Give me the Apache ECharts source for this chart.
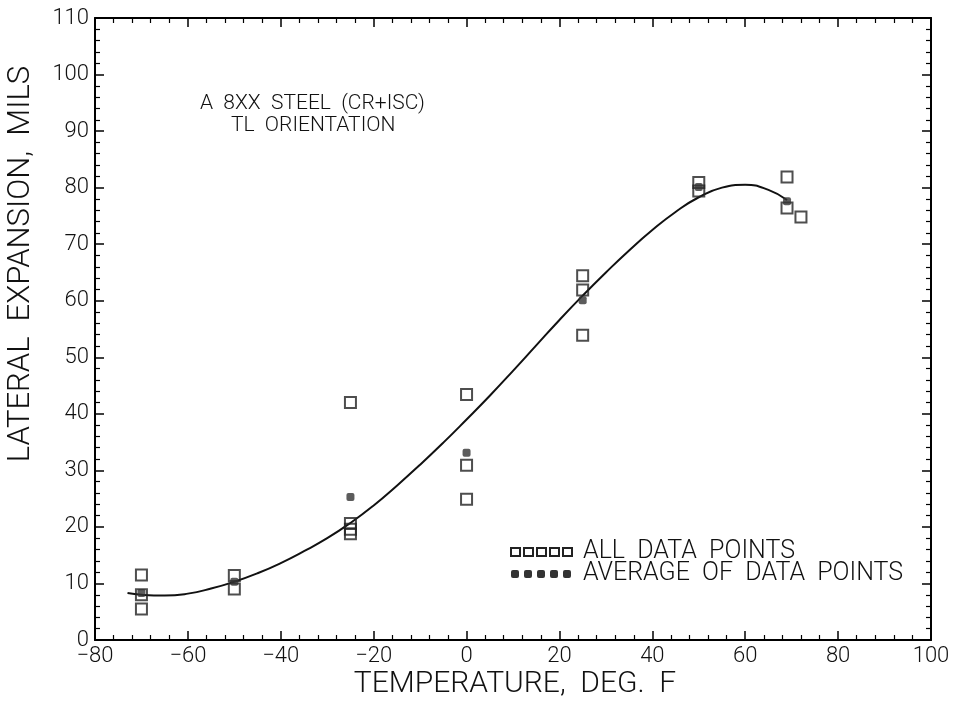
<!DOCTYPE html>
<html><head><meta charset="utf-8">
<script src="https://cdn.jsdelivr.net/npm/echarts@6/dist/echarts.min.js"></script>
<style>html,body{margin:0;padding:0;background:#fff}#c{width:956px;height:701px}</style>
</head><body><div id="c"></div>
<script>
// All data points [temperature F, lateral expansion mils]
const allPoints = [
  [-70, 11.5], [-70, 8.0], [-70, 5.5],
  [-50, 11.4], [-50, 9.0],
  [-25, 42.0], [-25, 20.6], [-25, 19.6], [-25, 18.8],
  [0, 43.4], [0, 30.9], [0, 24.9],
  [25, 64.4], [25, 61.9], [25, 53.9],
  [50, 80.9], [50, 79.4],
  [69, 81.9], [69, 76.4],
  [72, 74.8]
];
// Averages
const avgPoints = [
  [-70, 8.3], [-50, 10.3], [-25, 25.3], [0, 33.1], [25, 60.1], [50, 80.1], [69, 77.6]
];
// Fitted curve
const curveX = [-73, -70, -65, -60, -55, -50, -45, -40, -35, -30, -25, -20, -15, -10, -5, 0, 5, 10, 15, 20, 25, 30, 35, 40, 45, 50, 55, 60, 65, 69];
const curveY = [8.3, 8.0, 7.85, 8.2, 9.1, 10.3, 11.8, 13.6, 15.7, 18.0, 20.7, 23.8, 27.3, 31.0, 34.9, 39.0, 43.2, 47.6, 52.1, 56.6, 60.9, 65.0, 68.9, 72.5, 75.7, 78.3, 80.0, 80.5, 79.6, 77.8];
const xTicks = [-80, -60, -40, -20, 0, 20, 40, 60, 80, 100];
const yTicks = [0, 10, 20, 30, 40, 50, 60, 70, 80, 90, 100, 110];

const FONT = 'Roboto, "Liberation Sans", sans-serif';
const W = 300;
const curve = curveX.map((x, i) => [x, curveY[i]]);

function axisCommon(show) {
  return {
    axisLine: {show: true, onZero: false, lineStyle: {color: '#000', width: 2}},
    axisTick: {show: true, inside: true, length: 9, lineStyle: {color: '#000', width: 1.5}},
    minorTick: {show: true, splitNumber: 5, length: 5, lineStyle: {color: '#000', width: 1.2}},
    splitLine: {show: false},
    axisLabel: {show: show, color: '#111', fontFamily: FONT, fontWeight: W, fontSize: 22}
  };
}

const chart = echarts.init(document.getElementById('c'));
chart.setOption({
  backgroundColor: '#fff',
  animation: false,
  grid: {left: 95, right: 25, top: 18, bottom: 61, containLabel: false, outerBoundsMode: 'none'},
  xAxis: [
    Object.assign({type: 'value', min: xTicks[0], max: xTicks[xTicks.length - 1], interval: 20, position: 'bottom'},
      axisCommon(true),
      {axisLabel: {show: true, color: '#111', fontFamily: FONT, fontWeight: W, fontSize: 22, margin: 5,
        formatter: v => (v < 0 ? '\u2212' + Math.abs(v) : '' + v)}}),
    Object.assign({type: 'value', min: xTicks[0], max: xTicks[xTicks.length - 1], interval: 20, position: 'top'}, axisCommon(false))
  ],
  yAxis: [
    Object.assign({type: 'value', min: yTicks[0], max: yTicks[yTicks.length - 1], interval: 10, position: 'left'},
      axisCommon(true),
      {axisLabel: {show: true, color: '#111', fontFamily: FONT, fontWeight: W, fontSize: 22, margin: 6}}),
    Object.assign({type: 'value', min: yTicks[0], max: yTicks[yTicks.length - 1], interval: 10, position: 'right'}, axisCommon(false))
  ],
  series: [
    {type: 'line', data: curve, smooth: true, showSymbol: false, lineStyle: {color: '#111', width: 2}, z: 2},
    {type: 'scatter', data: allPoints, symbol: 'rect', symbolSize: 11,
      itemStyle: {color: 'rgba(255,255,255,0)', borderColor: '#222', borderWidth: 2}, z: 3},
    {type: 'scatter', data: avgPoints, symbol: 'roundRect', symbolSize: 8,
      itemStyle: {color: '#333'}, z: 4}
  ],
  graphic: [
    {type: 'text', x: 21, y: 264, rotation: Math.PI / 2,
      style: {text: 'LATERAL  EXPANSION,  MILS', font: W + ' 31px ' + FONT, fill: '#111', align: 'center', verticalAlign: 'middle'}},
    {type: 'text', x: 515, y: 684,
      style: {text: 'TEMPERATURE,  DEG.  F', font: W + ' 30px ' + FONT, fill: '#111', align: 'center', verticalAlign: 'middle'}},
    {type: 'text', left: 200, top: 93, style: {text: 'A  8XX  STEEL  (CR+ISC)', font: W + ' 21px ' + FONT, fill: '#111'}},
    {type: 'text', left: 231, top: 115, style: {text: 'TL  ORIENTATION', font: W + ' 21px ' + FONT, fill: '#111'}},
    {type: 'text', left: 583, top: 539, style: {text: 'ALL  DATA  POINTS', font: W + ' 25px ' + FONT, fill: '#111'}},
    {type: 'text', left: 583, top: 561, style: {text: 'AVERAGE  OF  DATA  POINTS', font: W + ' 25px ' + FONT, fill: '#111'}},
    ...[0, 1, 2, 3, 4].map(i => ({type: 'rect', shape: {x: 511 + i * 13, y: 548, width: 9, height: 8},
      style: {fill: 'none', stroke: '#222', lineWidth: 2}})),
    ...[0, 1, 2, 3, 4].map(i => ({type: 'rect', shape: {x: 511 + i * 13, y: 570, width: 8, height: 8, r: 2},
      style: {fill: '#333'}}))
  ]
});
</script></body></html>
